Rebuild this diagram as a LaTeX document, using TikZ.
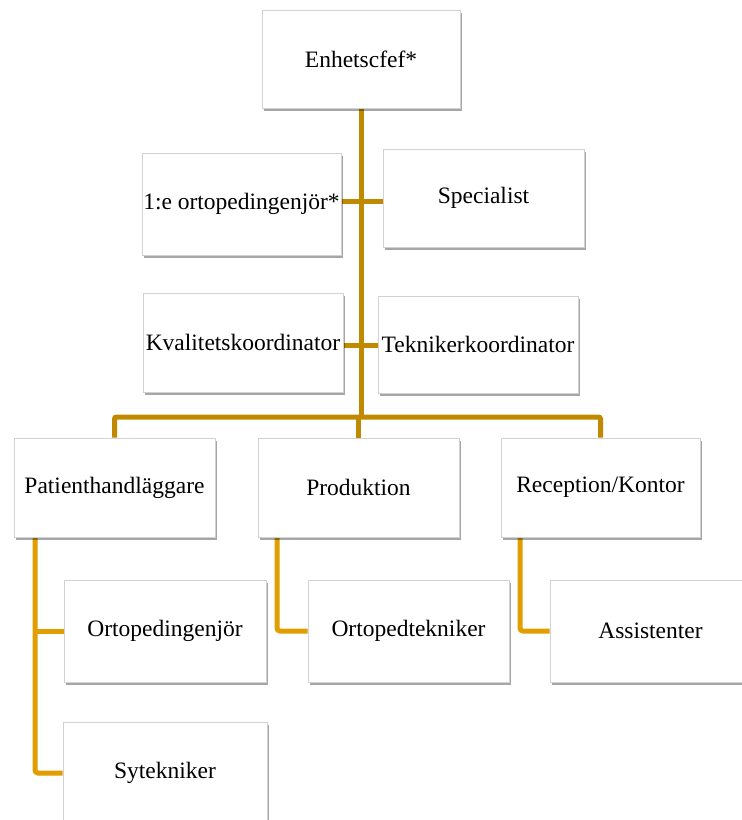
\documentclass[tikz,border=0pt]{standalone}
\usepackage{fontspec}
\setmainfont{Liberation Serif}
\usetikzlibrary{shadows,backgrounds}
\definecolor{lineA}{RGB}{193,137,0}
\definecolor{lineB}{RGB}{224,158,0}
\begin{document}
\begin{tikzpicture}[x=1pt,y=-1pt,
  box/.style={draw=gray!35, line width=0.6pt, fill=white, inner sep=0pt,
    font=\fontsize{23.5}{27}\selectfont,
    drop shadow={shadow xshift=1.5pt, shadow yshift=-3pt, opacity=0.35, fill=black}},
  linkA/.style={draw=lineA, line width=5pt, rounded corners=2pt},
  linkB/.style={draw=lineB, line width=5pt, rounded corners=3pt}]
\useasboundingbox (0,0) rectangle (742,820);

% level 0
\node[box, minimum width=198pt, minimum height=98pt] (enh) at (361,59) {Enhetscfef*};
% staff
\node[box, minimum width=199pt, minimum height=102pt] (ort1) at (241.5,204) {1:e ortopedingenjör*};
\node[box, minimum width=201pt, minimum height=98pt] (spec) at (483.5,198) {Specialist};
\node[box, minimum width=200pt, minimum height=99pt] (kval) at (243,342.5) {Kvalitetskoordinator};
\node[box, minimum width=200pt, minimum height=97pt] (tek) at (478,344.5) {Teknikerkoordinator};
% level 1
\node[box, minimum width=201pt, minimum height=99pt] (pat) at (114.5,487.5) {Patienthandläggare};
\node[box, minimum width=201pt, minimum height=99pt] (prod) at (358.5,487.5) {Produktion};
\node[box, minimum width=199pt, minimum height=99pt] (rec) at (600.5,487.5) {Reception/Kontor};
% level 2
\node[box, minimum width=202pt, minimum height=102pt] (orto) at (165,631) {Ortopedingenjör};
\node[box, minimum width=201pt, minimum height=102pt] (ortt) at (408.5,631) {Ortopedtekniker};
\node[box, minimum width=201pt, minimum height=102pt] (ass) at (650.5,631) {Assistenter};
\node[box, minimum width=204pt, minimum height=102pt] (syt) at (165,773) {Sytekniker};

\coordinate (bar) at (0,417);
\coordinate (c1) at (0,201);
\coordinate (c2) at (0,345);
\coordinate (pl) at (35,0);
\coordinate (ql) at (277,0);
\coordinate (rl) at (520,0);

\begin{pgfonlayer}{background}
\fill[white] (0,0) rectangle (742,820);
\draw[linkA] (enh.south) -- (enh.south |- bar);
\draw[linkA] (ort1.east |- c1) -- (spec.west |- c1);
\draw[linkA] (kval.east |- c2) -- (tek.west |- c2);
\draw[linkA] (pat.north) -- (pat.north |- bar) -- (rec.north |- bar) -- (rec.north);
\draw[linkA] (prod.north |- bar) -- (prod.north);
\draw[linkB] (pl |- pat.south) -- (pl |- syt.west) -- (syt.west);
\draw[linkB] (pl |- orto.west) -- (orto.west);
\draw[linkB] (ql |- prod.south) -- (ql |- ortt.west) -- (ortt.west);
\draw[linkB] (rl |- rec.south) -- (rl |- ass.west) -- (ass.west);
\end{pgfonlayer}
\end{tikzpicture}
\end{document}
